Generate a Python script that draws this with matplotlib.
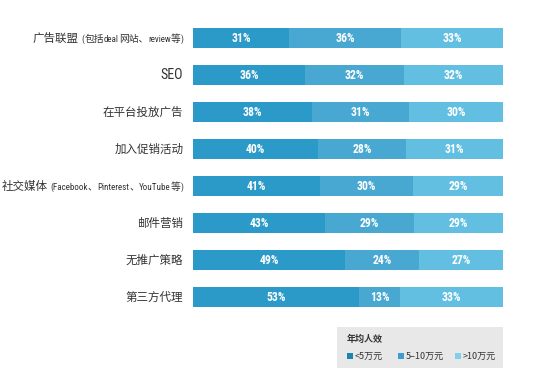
import re
import matplotlib
matplotlib.use("Agg")
import matplotlib.pyplot as plt
from matplotlib.patches import Rectangle
from matplotlib.offsetbox import TextArea, HPacker, AnnotationBbox

plt.rcParams['font.family'] = ['Noto Sans CJK SC', 'DejaVu Sans']

categories = ["广告联盟 (包括deal网站、review等)", "SEO", "在平台投放广告", "加入促销活动",
              "社交媒体 (Facebook、Pinterest、YouTube等)", "邮件营销", "无推广策略", "第三方代理"]
low = [31, 36, 38, 40, 41, 43, 49, 53]
mid = [36, 32, 31, 28, 30, 29, 24, 13]
high = [33, 32, 30, 31, 29, 29, 27, 33]
series_names = ["<5万元", "5–10万元", ">10万元"]
legend_title = "年均人效"

bar_colors = ["#2b9ac8", "#48a8d1", "#62bfe2"]
legend_colors = ["#1b86ad", "#3a9ed0", "#7fd0ee"]
COND = ['Roboto Condensed', 'Sofia Sans Condensed', 'DejaVu Sans']
TXT = '#333333'

fig = plt.figure(figsize=(5.5, 3.78), dpi=100)
ax = fig.add_axes([0.351, 0.165, 0.564, 0.783])

ys = list(range(len(categories)))
for i, y in enumerate(ys):
    vals = [low[i], mid[i], high[i]]
    tot = sum(vals)
    left = 0
    for j, v in enumerate(vals):
        w = v / tot * 100
        ax.barh(y, w, left=left, height=0.54, color=bar_colors[j], edgecolor='none')
        ax.text(left + w / 2, y, f"{v}%", ha='center', va='center', color='white',
                fontsize=8.5, fontweight='bold', family=COND)
        left += w

ax.set_xlim(0, 100)
ax.set_ylim(7.5, -0.5)
ax.set_yticks([])
ax.set_xticks([])
for s in ax.spines.values():
    s.set_visible(False)


def label_parts(label):
    if " (" in label:
        main, rest = label.split(" (", 1)
        main = main + " "
        rest = "(" + rest
    else:
        main, rest = label, ""
    parts = []
    for run in re.findall(r"[A-Za-z ]+|[^A-Za-z ]+", main):
        if re.match(r"[A-Za-z]", run):
            parts.append((run, 10, COND))
        else:
            parts.append((run, 8.3, None))
    for run in re.findall(r"[A-Za-z()]+|[^A-Za-z()]+", rest):
        if re.match(r"[A-Za-z()]", run):
            parts.append((run, 6.5, COND))
        else:
            parts.append((run, 7.0, None))
    return parts


for y, lab in zip(ys, categories):
    children = []
    for t, fs, fam in label_parts(lab):
        props = dict(fontsize=fs, color=TXT)
        if fam:
            props['family'] = fam
        children.append(TextArea(t, textprops=props))
    pack = HPacker(children=children, align="baseline", pad=0, sep=0)
    ab = AnnotationBbox(pack, (0, y), xybox=(-7, 0), xycoords=('axes fraction', 'data'),
                        boxcoords='offset points', box_alignment=(1, 0.5), frameon=False,
                        annotation_clip=False)
    ax.add_artist(ab)

# legend box
fig.patches.append(Rectangle((337 / 550, 1 - 368 / 378), (503 - 337) / 550, (368 - 327) / 378,
                             transform=fig.transFigure, facecolor='#e8e8e8', edgecolor='none'))
fig.text(347 / 550, 1 - 339 / 378, legend_title, fontsize=6.5, fontweight='bold',
         color=TXT, va='center', ha='left')
xs = [347, 398, 455]
for k, name in enumerate(series_names):
    x = xs[k]
    fig.patches.append(Rectangle((x / 550, 1 - 359 / 378), 6 / 550, 6 / 378,
                                 transform=fig.transFigure, facecolor=legend_colors[k], edgecolor='none'))
    fig.text((x + 8) / 550, 1 - 356 / 378, name, fontsize=6.5, color=TXT,
             va='center', ha='left')

fig.savefig("out.png", dpi=100)
